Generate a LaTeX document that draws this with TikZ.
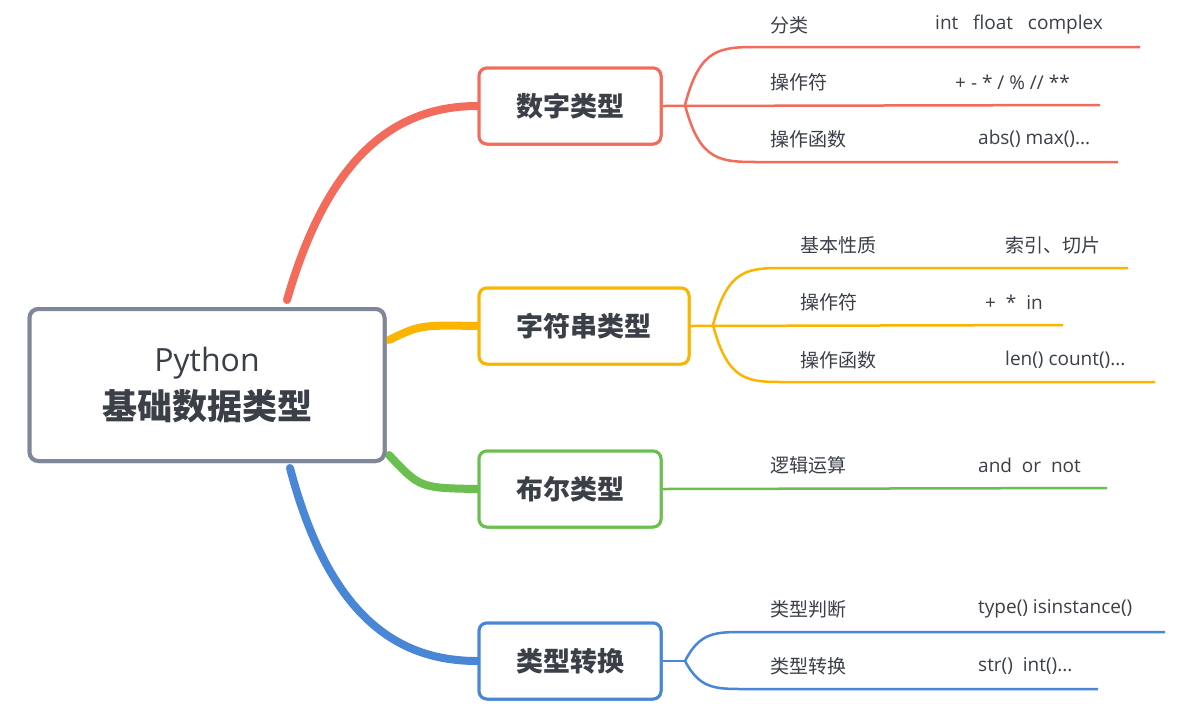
\documentclass[tikz,border=0pt]{standalone}
\usepackage{fontspec}
\setmainfont{Open Sans}
\newfontfamily\cjk{Noto Sans CJK SC}
\definecolor{cred}{HTML}{F26B5B}
\definecolor{cyel}{HTML}{FBB400}
\definecolor{cgrn}{HTML}{6BBF4E}
\definecolor{cblu}{HTML}{4A86D6}
\definecolor{cgry}{HTML}{7F8898}
\definecolor{ctxt}{HTML}{3A3F48}
\begin{document}
\begin{tikzpicture}[x=1pt,y=-1pt,
 mainbox/.style={draw=cgry,line width=4pt,rounded corners=9pt,fill=white,minimum width=355pt,minimum height=152pt,align=center,text=ctxt,font=\fontsize{32}{48}\selectfont},
 catbox/.style={draw=#1,line width=3pt,rounded corners=8pt,fill=white,minimum height=76pt,text=ctxt,font=\cjk\bfseries\fontsize{27}{30}\selectfont},
 lab/.style={anchor=west,text=ctxt,font=\fontsize{19}{22}\selectfont,inner sep=0pt},
 trunk/.style={line width=8pt,line cap=round},
 leaf/.style={line width=2.5pt}]
\fill[white] (0,0) rectangle (1182,721);
\node[mainbox] (c) at (207,385) {Python\\{\cjk\bfseries\fontsize{35}{40}\selectfont 基础数据类型}};
\node[catbox=cred,minimum width=182pt] (n1) at (570,106) {数字类型};
\node[catbox=cyel,minimum width=210pt] (n2) at (584,326) {字符串类型};
\node[catbox=cgrn,minimum width=182pt] (n3) at (570,489) {布尔类型};
\node[catbox=cblu,minimum width=182pt] (n4) at (570,661) {类型转换};
% trunks
\draw[trunk,cred] (287,300) .. controls (330,150) and (400,106) .. (n1.west);
\draw[trunk,cyel] (389,340) .. controls (420,325) .. (n2.west);
\draw[trunk,cgrn] (389,455) .. controls (420,488) .. (n3.west);
\draw[trunk,cblu] (290,468) .. controls (330,620) and (400,661) .. (n4.west);
% red leaves
\coordinate (r0) at (685,105);
\draw[leaf,cred] (n1.east) -- (1100,105);
\draw[leaf,cred] (r0) .. controls (700,47) and (720,47) .. (760,47) -- (1140,47);
\draw[leaf,cred] (r0) .. controls (700,162) and (720,162) .. (760,162) -- (1118,162);
\node[lab] (a1) at (770,25) {\cjk 分类};
\node[lab] (b1) at (935,25) {int\ \ \ float\ \ \ complex};
\node[lab] (a2) at (770,82) {\cjk 操作符};
\node[lab] (b2) at (955,82) {+ - * / \% // **};
\node[lab] (a3) at (770,139) {\cjk 操作函数};
\node[lab] (b3) at (978,139) {abs() max()...};
% yellow
\coordinate (y0) at (713,325);
\draw[leaf,cyel] (n2.east) -- (1063,325);
\draw[leaf,cyel] (y0) .. controls (728,268) and (748,268) .. (785,268) -- (1128,268);
\draw[leaf,cyel] (y0) .. controls (728,382) and (748,382) .. (785,382) -- (1155,382);
\node[lab] (a4) at (800,245) {\cjk 基本性质};
\node[lab] (b4) at (1005,245) {\cjk 索引、切片};
\node[lab] (a5) at (800,302) {\cjk 操作符};
\node[lab] (b5) at (985,302) {+\ \ *\ \ in};
\node[lab] (a6) at (800,360) {\cjk 操作函数};
\node[lab] (b6) at (1005,360) {len() count()...};
% green
\draw[leaf,cgrn] (n3.east) -- (1107,488);
\node[lab] (a7) at (770,465) {\cjk 逻辑运算};
\node[lab] (b7) at (978,465) {and\ \ or\ \ not};
% blue
\coordinate (u0) at (685,661);
\draw[leaf,cblu] (n4.east) -- (u0);
\draw[leaf,cblu] (u0) .. controls (700,632) and (715,632) .. (745,632) -- (1165,632);
\draw[leaf,cblu] (u0) .. controls (700,689) and (715,689) .. (745,689) -- (1098,689);
\node[lab] (a8) at (770,609) {\cjk 类型判断};
\node[lab] (b8) at (978,609) {type() isinstance()};
\node[lab] (a9) at (770,666) {\cjk 类型转换};
\node[lab] (b9) at (978,666) {str()\ \ int()...};
% redraw boxes on top
\node[mainbox] at (c) {Python\\{\cjk\bfseries\fontsize{35}{40}\selectfont 基础数据类型}};
\node[catbox=cred,minimum width=182pt] at (n1) {数字类型};
\node[catbox=cyel,minimum width=210pt] at (n2) {字符串类型};
\node[catbox=cgrn,minimum width=182pt] at (n3) {布尔类型};
\node[catbox=cblu,minimum width=182pt] at (n4) {类型转换};
\end{tikzpicture}
\end{document}
